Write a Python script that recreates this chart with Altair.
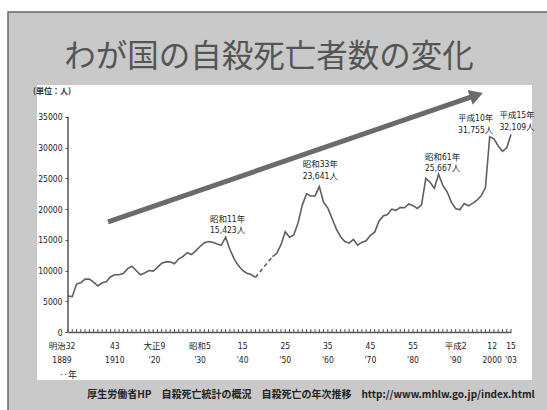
import altair as alt
import pandas as pd

# ---------------- data ----------------
years_prewar = list(range(1899, 1944))
deaths_prewar = [5850, 5750, 7800, 8000, 8600, 8600, 8100, 7500, 8000, 8150,
                 9000, 9300, 9300, 9500, 10300, 10700, 10000, 9300, 9600, 10000,
                 9900, 10500, 11200, 11400, 11400, 11100, 11900, 12300, 12900, 12600,
                 13200, 13900, 14500, 14700, 14600, 14300, 14100, 15423, 13450, 11900,
                 10800, 10000, 9550, 9350, 8870]

years_postwar = list(range(1947, 2004))
deaths_postwar = [12262, 12753, 14201, 16311, 15415, 15776, 17731, 20635, 22477, 22107,
                  22136, 23641, 21090, 20143, 18446, 16724, 15490, 14707, 14444, 15050,
                  14121, 14601, 14844, 15728, 16239, 18015, 18859, 19105, 19975, 19786,
                  20269, 20199, 20823, 20542, 20096, 20668, 24985, 24344, 23383, 25667,
                  23831, 22795, 21125, 20088, 19875, 20893, 20516, 20923, 21420, 22138,
                  23494, 31755, 31413, 30251, 29375, 29949, 32109]

label_years = [1899, 1910, 1920, 1930, 1940, 1950, 1960, 1970, 1980, 1990, 2000, 2003]
era_labels = ["明治32", "43", "大正9", "昭和5", "15", "25", "35", "45", "55", "平成2", "12", "15"]
ad_labels = ["1889", "1910", "'20", "'30", "'40", "'50", "'60", "'70", "'80", "'90", "2000", "'03"]

y_ticks = [0, 5000, 10000, 15000, 20000, 25000, 30000, 35000]

ann_era = ["昭和11年", "昭和33年", "昭和61年", "平成10年", "平成15年"]
ann_count = ["15,423人", "23,641人", "25,667人", "31,755人", "32,109人"]
ann_years = [1936, 1958, 1986, 1998, 2003]
ann_values = [15423, 23641, 25667, 31755, 32109]

arrow_years = [1908.4, 1994.9]
arrow_values = [17900, 38500]

title_text = "わが国の自殺死亡者数の変化"
unit_text = "(単位：人)"
year_suffix = "‥年"
source_text = "厚生労働省HP　自殺死亡統計の概況　自殺死亡の年次推移　http://www.mhlw.go.jp/index.html"

# ---------------- layout / style ----------------
W, H = 443, 246
LINE_C = "#5f5f5f"
AX_C = "#555555"
NARROW = "Liberation Sans Narrow, Arial Narrow, DejaVu Sans Condensed, Noto Sans CJK JP, sans-serif"
CJK = "Noto Sans CJK JP, sans-serif"

x_scale = alt.Scale(domain=[1899, 2003], nice=False, zero=False)
y_scale = alt.Scale(domain=[0, 40000], nice=False, zero=True)

x_axis = alt.Axis(title=None, labels=False, ticks=False, grid=False, domain=True,
                  domainColor=AX_C, domainWidth=1.5, zindex=1)
y_axis = alt.Axis(title=None, values=y_ticks, format="d", grid=False, domain=False, ticks=True,
                  tickSize=3, tickColor=AX_C, labelPadding=3, labelFont=NARROW,
                  labelFontSize=8.5, labelColor="#222", zindex=1)


def X(field="year"):
    return alt.X(f"{field}:Q", scale=x_scale, axis=x_axis)


def Y(field="value"):
    return alt.Y(f"{field}:Q", scale=y_scale, axis=y_axis)


one = pd.DataFrame({"k": [0]})

frame = alt.Chart(one).mark_rect(fill="#c9c9c9", stroke="#666666", strokeWidth=1.5).encode(
    x=alt.value(-60), x2=alt.value(520), y=alt.value(-74), y2=alt.value(360))
panel = alt.Chart(one).mark_rect(fill="white").encode(
    x=alt.value(-31), x2=alt.value(464), y=alt.value(-1), y2=alt.value(294))

pre = pd.DataFrame({"year": years_prewar, "value": deaths_prewar})
post = pd.DataFrame({"year": years_postwar, "value": deaths_postwar})
gap = pd.DataFrame({"year": [years_prewar[-1], years_postwar[0]],
                    "value": [deaths_prewar[-1], deaths_postwar[0]]})

line_pre = alt.Chart(pre).mark_line(color=LINE_C, strokeWidth=1.6).encode(x=X(), y=Y())
line_post = alt.Chart(post).mark_line(color=LINE_C, strokeWidth=1.6).encode(x=X(), y=Y())
line_gap = alt.Chart(gap).mark_line(color=LINE_C, strokeWidth=1.6, strokeDash=[4, 3]).encode(x=X(), y=Y())

# y axis line (0 .. 35000)
yline = alt.Chart(pd.DataFrame({"value": [0], "value2": [35000]})).mark_rule(
    color=AX_C, strokeWidth=1.5).encode(x=alt.value(0), y=Y(), y2="value2:Q")

# inward minor ticks every year
tick_df = pd.DataFrame({"year": list(range(1899, 2004))})
xticks = alt.Chart(tick_df).mark_rule(color=AX_C, strokeWidth=1).encode(
    x=X(), y=alt.value(H), y2=alt.value(H - 3))

# x labels
lab_df = pd.DataFrame({"year": label_years, "era": era_labels, "ad": ad_labels})
dx_map = {1899: -6, 2000: -6, 1920: -3}
lab_layers = []
for yr in label_years:
    d = lab_df[lab_df["year"] == yr]
    dx = dx_map.get(yr, 0)
    lab_layers.append(alt.Chart(d).mark_text(font=NARROW, fontSize=8.5, color="#222", dx=dx,
                                             baseline="middle").encode(
        x=X(), y=alt.value(H + 14), text="era:N"))
    lab_layers.append(alt.Chart(d).mark_text(font=NARROW, fontSize=8.5, color="#222", dx=dx,
                                             baseline="middle").encode(
        x=X(), y=alt.value(H + 28), text="ad:N"))

suffix = alt.Chart(one).mark_text(text=year_suffix, font=CJK, fontSize=9, color="#222",
                                  baseline="middle").encode(x=alt.value(0), y=alt.value(H + 43))
unit = alt.Chart(one).mark_text(text=unit_text, font=CJK, fontSize=8, fontWeight="bold",
                                color="#333", baseline="middle").encode(x=alt.value(-16), y=alt.value(6))

title = alt.Chart(one).mark_text(text=title_text, font=CJK, fontSize=31.5, color="#555555",
                                 baseline="middle").encode(x=alt.value(201), y=alt.value(-28))
source = alt.Chart(one).mark_text(text=source_text, font=CJK, fontSize=10, fontWeight="bold",
                                  color="#222", baseline="middle").encode(x=alt.value(243), y=alt.value(309))

# arrow
arr = pd.DataFrame({"year": [arrow_years[0]], "value": [arrow_values[0]],
                    "year2": [arrow_years[1]], "value2": [arrow_values[1]]})
arrow_shaft = alt.Chart(arr).mark_rule(color="#6e6a6a", strokeWidth=5).encode(
    x=X(), y=Y(), x2="year2:Q", y2="value2:Q")
head = pd.DataFrame({"year": [arrow_years[1]], "value": [arrow_values[1]]})
arrow_head = alt.Chart(head).mark_point(shape="triangle-up", angle=71, size=240, filled=True,
                                        color="#6e6a6a", opacity=1).encode(x=X(), y=Y())

# annotations
ann_df = pd.DataFrame({"year": ann_years, "value": ann_values, "era": ann_era, "cnt": ann_count})
ann_off = {1936: (2, -7), 1958: (1, -11), 1986: (4, -6), 1998: (-14, -7), 2003: (6, -8)}
ann_layers = []
for yr in ann_years:
    d = ann_df[ann_df["year"] == yr]
    dx, dy = ann_off[yr]
    ann_layers.append(alt.Chart(d).mark_text(font=NARROW, fontSize=8.5, color="#222", dx=dx, dy=dy,
                                             baseline="middle").encode(x=X(), y=Y(), text="cnt:N"))
    ann_layers.append(alt.Chart(d).mark_text(font=NARROW, fontSize=8.5, color="#222", dx=dx, dy=dy - 11.5,
                                             baseline="middle").encode(x=X(), y=Y(), text="era:N"))

chart = alt.layer(
    frame, panel, line_pre, line_post, line_gap, yline, xticks, arrow_shaft, arrow_head,
    *lab_layers, *ann_layers, suffix, unit, title, source
).properties(
    width=W, height=H,
    padding={"left": 68, "top": 86, "right": 36, "bottom": 78},
    autosize=alt.AutoSizeParams(type="none"),
    background="white",
).configure_view(stroke=None)

chart.save("out.html", embed_options={"renderer": "svg", "actions": False})
